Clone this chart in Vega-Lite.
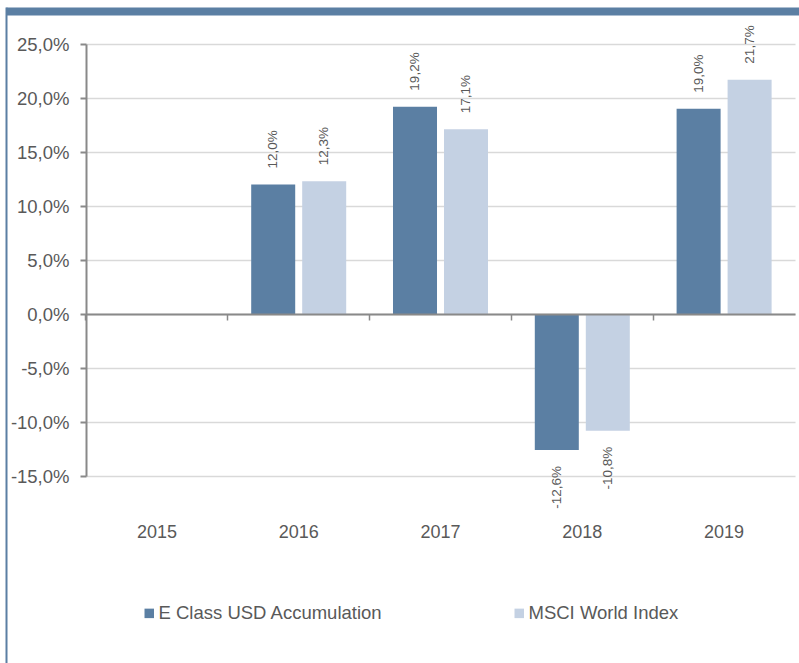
{
  "$schema": "https://vega.github.io/schema/vega-lite/v6.json",
  "width": 709,
  "height": 432,
  "autosize": "none",
  "padding": {"left": 86, "top": 44, "right": 4, "bottom": 187},
  "background": "white",
  "config": {
    "locale": {"number": {"decimal": ",", "thousands": ".", "grouping": [3], "currency": ["", " €"], "minus": "-"}},
    "view": {"stroke": null},
    "font": "Liberation Sans",
    "text": {"font": "Liberation Sans"}
  },
  "data": {
    "values": [
      {"year": "2016", "series": "E Class USD Accumulation", "value": 0.120},
      {"year": "2016", "series": "MSCI World Index", "value": 0.123},
      {"year": "2017", "series": "E Class USD Accumulation", "value": 0.192},
      {"year": "2017", "series": "MSCI World Index", "value": 0.171},
      {"year": "2018", "series": "E Class USD Accumulation", "value": -0.126},
      {"year": "2018", "series": "MSCI World Index", "value": -0.108},
      {"year": "2019", "series": "E Class USD Accumulation", "value": 0.190},
      {"year": "2019", "series": "MSCI World Index", "value": 0.217}
    ]
  },
  "resolve": {"scale": {"x": "independent", "y": "independent"}, "axis": {"x": "independent", "y": "independent"}},
  "layer": [
    {
      "resolve": {"scale": {"x": "shared", "y": "shared"}, "axis": {"x": "independent", "y": "independent"}},
      "layer": [
        {
          "mark": {"type": "bar"},
          "encoding": {
            "x": {
              "field": "year", "type": "nominal",
              "scale": {"domain": ["2015", "2016", "2017", "2018", "2019"], "paddingInner": 0.33, "paddingOuter": 0.165},
              "axis": {"orient": "bottom", "title": null, "ticks": false, "domain": false, "grid": false, "labelAngle": 0, "labelFontSize": 18, "labelColor": "#595959", "labelFont": "Liberation Sans", "labelPadding": 47}
            },
            "xOffset": {"field": "series", "type": "nominal", "scale": {"paddingInner": 0.137, "paddingOuter": 0}},
            "y": {
              "field": "value", "type": "quantitative",
              "scale": {"domain": [-0.15, 0.25], "nice": false, "zero": false},
              "axis": {"orient": "left", "title": null, "format": ".1%", "values": [-0.15, -0.1, -0.05, 0, 0.05, 0.1, 0.15, 0.2, 0.25], "tickSize": 6, "tickColor": "#898989", "tickWidth": 2, "domainColor": "#898989", "domainWidth": 2, "grid": true, "gridColor": "#D9D9D9", "gridWidth": 1.5, "labelFontSize": 18.5, "labelColor": "#595959", "labelFont": "Liberation Sans", "labelPadding": 11}
            },
            "color": {
              "field": "series", "type": "nominal",
              "scale": {"domain": ["E Class USD Accumulation", "MSCI World Index"], "range": ["#5B7FA3", "#C4D1E3"]},
              "legend": {"orient": "none", "legendX": 54, "legendY": 560, "direction": "horizontal", "title": null, "symbolType": "square", "symbolSize": 90, "symbolStrokeWidth": 0, "labelFontSize": 18.5, "labelColor": "#595959", "labelFont": "Liberation Sans", "labelLimit": 400, "columnPadding": 127, "labelOffset": 0}
            }
          }
        },
        {
          "transform": [{"filter": "datum.value >= 0"}],
          "mark": {"type": "text", "angle": 270, "align": "left", "baseline": "middle", "dx": 16, "fontSize": 13.5, "color": "#595959"},
          "encoding": {
            "x": {
              "field": "year", "type": "nominal",
              "axis": {"orient": "bottom", "offset": -162, "title": null, "labels": false, "grid": false, "ticks": true, "tickSize": 6, "tickColor": "#898989", "tickWidth": 1.5, "bandPosition": -0.2463, "domainColor": "#898989", "domainWidth": 2, "zindex": 2}
            },
            "xOffset": {"field": "series", "type": "nominal"},
            "y": {"field": "value", "type": "quantitative", "axis": null},
            "text": {"field": "value", "type": "quantitative", "format": ".1%"}
          }
        },
        {
          "transform": [{"filter": "datum.value < 0"}],
          "mark": {"type": "text", "angle": 270, "align": "right", "baseline": "middle", "dx": -16, "fontSize": 13.5, "color": "#595959"},
          "encoding": {
            "x": {"field": "year", "type": "nominal", "axis": null},
            "xOffset": {"field": "series", "type": "nominal"},
            "y": {"field": "value", "type": "quantitative", "axis": null},
            "text": {"field": "value", "type": "quantitative", "format": ".1%"}
          }
        }
      ]
    },
    {
      "mark": {"type": "point", "opacity": 0},
      "encoding": {
        "x": {
          "field": "value", "type": "quantitative",
          "scale": {"range": [-80, 713], "zero": false},
          "axis": {"orient": "top", "offset": 33, "title": null, "labels": false, "grid": false, "ticks": false, "domainColor": "#5B7FA3", "domainWidth": 8}
        },
        "y": {
          "field": "value", "type": "quantitative",
          "scale": {"range": [619, -37], "zero": false},
          "axis": {"orient": "left", "offset": 80, "title": null, "labels": false, "grid": false, "ticks": false, "domainColor": "#5B7FA3", "domainWidth": 2}
        }
      }
    }
  ]
}
